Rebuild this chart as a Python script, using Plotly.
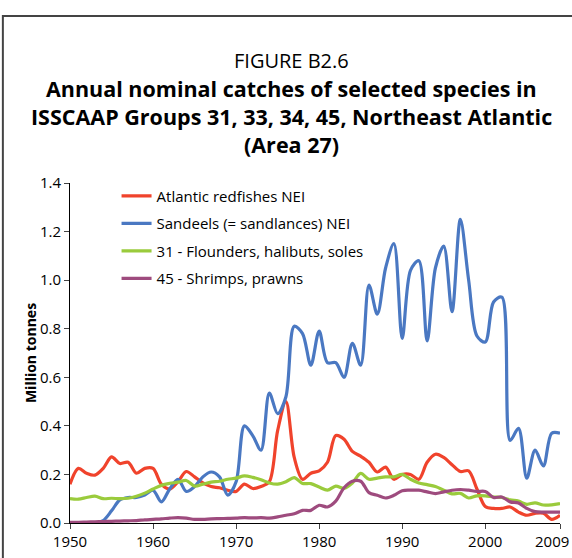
import plotly.graph_objects as go

# years 1950-2009
years = list(range(1950, 2010))

# million tonnes
redfish = [0.16, 0.225, 0.205, 0.197, 0.225, 0.272, 0.245, 0.25, 0.205, 0.225,
           0.225, 0.16, 0.14, 0.17, 0.212, 0.19, 0.165, 0.15, 0.145, 0.135,
           0.13, 0.16, 0.142, 0.15, 0.17, 0.38, 0.50, 0.27, 0.18, 0.205,
           0.215, 0.25, 0.36, 0.345, 0.295, 0.275, 0.25, 0.21, 0.23, 0.18,
           0.20, 0.20, 0.18, 0.25, 0.283, 0.27, 0.24, 0.212, 0.215, 0.14,
           0.068, 0.06, 0.06, 0.066, 0.045, 0.032, 0.04, 0.04, 0.015, 0.032]

sandeels = [0.0, 0.0, 0.0, 0.0, 0.01, 0.05, 0.095, 0.105, 0.105, 0.115,
            0.135, 0.087, 0.14, 0.18, 0.13, 0.15, 0.19, 0.21, 0.19, 0.115,
            0.17, 0.40, 0.36, 0.30, 0.535, 0.45, 0.52, 0.81, 0.78, 0.65,
            0.79, 0.66, 0.66, 0.60, 0.74, 0.65, 0.98, 0.86, 1.05, 1.15,
            0.76, 1.04, 1.08, 0.75, 1.05, 1.14, 0.87, 1.25, 1.0, 0.77,
            0.745, 0.91, 0.93, 0.34, 0.39, 0.185, 0.30, 0.235, 0.37, 0.37]

flounders = [0.10, 0.098, 0.105, 0.111, 0.10, 0.102, 0.10, 0.102, 0.11, 0.123,
             0.14, 0.155, 0.163, 0.168, 0.175, 0.152, 0.16, 0.168, 0.172, 0.18,
             0.185, 0.194, 0.188, 0.178, 0.165, 0.16, 0.17, 0.187, 0.163, 0.162,
             0.148, 0.135, 0.152, 0.143, 0.165, 0.204, 0.18, 0.185, 0.19, 0.19,
             0.20, 0.18, 0.165, 0.158, 0.15, 0.135, 0.12, 0.122, 0.103, 0.112,
             0.112, 0.107, 0.105, 0.095, 0.09, 0.077, 0.083, 0.074, 0.075, 0.08]

shrimps = [0.003, 0.003, 0.004, 0.005, 0.006, 0.007, 0.008, 0.009, 0.01, 0.013,
           0.015, 0.017, 0.02, 0.022, 0.02, 0.015, 0.015, 0.017, 0.018, 0.019,
           0.02, 0.022, 0.021, 0.022, 0.02, 0.025, 0.032, 0.038, 0.052, 0.052,
           0.073, 0.066, 0.09, 0.145, 0.172, 0.172, 0.125, 0.114, 0.103, 0.114,
           0.133, 0.135, 0.135, 0.128, 0.121, 0.128, 0.135, 0.138, 0.135, 0.13,
           0.13, 0.105, 0.107, 0.087, 0.082, 0.06, 0.047, 0.045, 0.045, 0.045]

names = ["Atlantic redfishes NEI", "Sandeels (= sandlances) NEI",
         "31 - Flounders, halibuts, soles", "45 - Shrimps, prawns"]
colors = ["#f0432c", "#4a78c2", "#9acb3c", "#9e4b7e"]

x_ticks = [1950, 1960, 1970, 1980, 1990, 2000, 2009]
# last label nudged left with trailing spaces so it stays inside the page
x_labels = ["1950", "1960", "1970", "1980", "1990", "2000", "2009\u00a0\u00a0\u00a0\u00a0"]
y_ticks = [0, 0.2, 0.4, 0.6, 0.8, 1.0, 1.2, 1.4]

FONT = "Open Sans"

fig = go.Figure()
for i, (name, vals) in enumerate(zip(names, [redfish, sandeels, flounders, shrimps])):
    fig.add_trace(go.Scatter(x=years, y=vals, name=name, mode="lines",
                             line=dict(color=colors[i], width=3.2, shape="spline", smoothing=0.9),
                             legendgroup=str(i)))

# layout: plot area spans x 70..560, y 183..523 px
fig.update_layout(
    width=572, height=558,
    margin=dict(l=70, r=12, t=183, b=35, autoexpand=False),
    paper_bgcolor="white", plot_bgcolor="white",
    font=dict(family=FONT, size=14, color="black"),
    showlegend=True,
    legend=dict(x=0.095, y=1.01, xanchor="left", yanchor="top",
                font=dict(size=15), tracegroupgap=5, itemwidth=30,
                bgcolor="rgba(0,0,0,0)"),
    xaxis=dict(range=[1950, 2009], tickvals=x_ticks, ticktext=x_labels,
               ticks="outside", ticklen=5,
               showline=True, linecolor="black", linewidth=1, showgrid=False,
               zeroline=False, tickfont=dict(size=15), ticklabeloverflow="allow",
               automargin=False),
    yaxis=dict(range=[0, 1.4], tickvals=y_ticks, tickformat=".1f", ticks="outside",
               ticklen=5, showline=True, linecolor="black", linewidth=1,
               showgrid=False, zeroline=False, tickfont=dict(size=15), automargin=False,
               title=dict(text="<b>Million tonnes</b>", font=dict(size=14), standoff=0)),
)

# frame around the figure
fig.add_shape(type="rect", xref="paper", yref="paper",
              x0=-0.137, x1=1.05, y0=-0.15, y1=1.491,
              line=dict(color="#444444", width=2))

# title block
fig.add_annotation(text="FIGURE B2.6", xref="paper", yref="paper", x=0.452, y=1.359,
                   showarrow=False, font=dict(size=20, family=FONT), xanchor="center", yanchor="middle")
title_lines = ["Annual nominal catches of selected species in",
               "ISSCAAP Groups 31, 33, 34, 45, Northeast Atlantic",
               "(Area 27)"]
title_y = [1.279, 1.196, 1.114]
for line, ty in zip(title_lines, title_y):
    fig.add_annotation(text="<b>" + line + "</b>", xref="paper", yref="paper",
                       x=0.452, y=ty, showarrow=False,
                       font=dict(size=21.5, family=FONT), xanchor="center", yanchor="middle")

fig.write_html("out.html", config={"displayModeBar": False},
               post_script="document.body.style.margin='0';")
